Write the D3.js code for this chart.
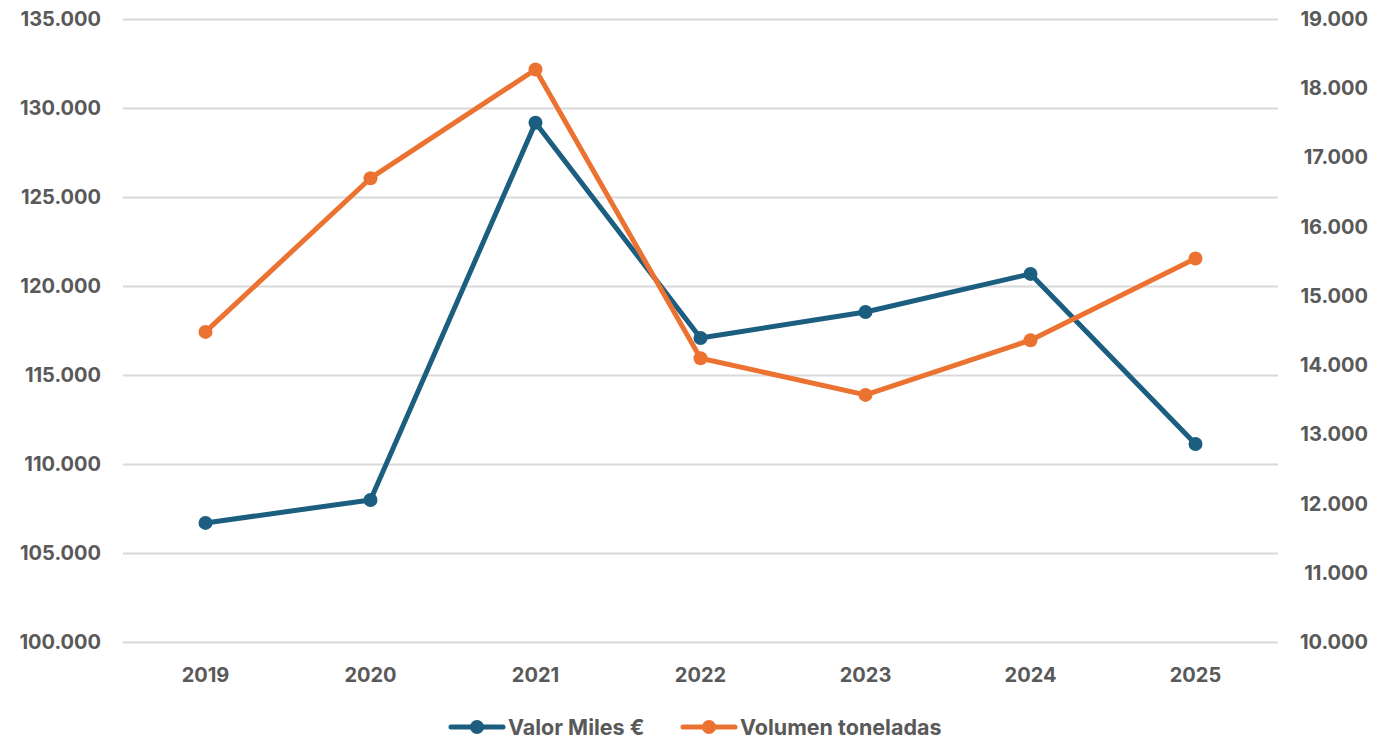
<!DOCTYPE html>
<html><head>
<meta charset="utf-8">
<script src="https://d3js.org/d3.v7.min.js"></script>
<style>
  body { margin: 0; background: #fff; }
  svg text { font-family: Inter, Roboto, "Noto Sans", sans-serif; font-weight: 700; fill: #595959; }
  .gridlines line { stroke: #d9d9d9; stroke-width: 2; }
  .gridlines .domain { stroke: none; }
</style>
</head>
<body>
<svg id="chart" width="1397" height="740"></svg>
<script>

// data
const years = ["2019", "2020", "2021", "2022", "2023", "2024", "2025"];
const valorMiles = [106690, 107980, 129170, 117080, 118540, 120680, 111120];
const volumenToneladas = [14480, 16700, 18270, 14100, 13570, 14360, 15540];
const leftTicks = [100000, 105000, 110000, 115000, 120000, 125000, 130000, 135000];
const rightTicks = [10000, 11000, 12000, 13000, 14000, 15000, 16000, 17000, 18000, 19000];
const seriesNames = ["Valor Miles €", "Volumen toneladas"];
const seriesColors = ["#1b5e80", "#ec7232"];

const svg = d3.select("svg#chart");
const margin = {top: 19, right: 119, bottom: 98, left: 123};
const width = +svg.attr("width");
const height = +svg.attr("height");
const chartWidth = width - margin.left - margin.right;
const chartHeight = height - margin.top - margin.bottom;

const xScale = d3.scaleBand().domain(years).range([0, chartWidth]);
const leftScale = d3.scaleLinear().domain([100000, 135000]).range([chartHeight, 0]);
const rightScale = d3.scaleLinear().domain([10000, 19000]).range([chartHeight, 0]);

// spanish number format: 135.000
const fmt = d3.formatLocale({decimal: ",", thousands: ".", grouping: [3], currency: ["", " €"]}).format(",d");

const g = svg.append("g")
  .attr("transform", "translate(" + margin.left + "," + margin.top + ")");

// gridlines
g.append("g")
  .attr("class", "gridlines")
  .call(d3.axisLeft(leftScale).tickValues(leftTicks).tickSize(-chartWidth).tickFormat(""));

// left axis labels
leftTicks.forEach(t => {
  g.append("text")
    .attr("x", -22)
    .attr("y", leftScale(t))
    .attr("dy", "0.35em")
    .attr("text-anchor", "end")
    .style("font-size", "20px")
    .text(fmt(t));
});

// right axis labels
rightTicks.forEach(t => {
  g.append("text")
    .attr("x", chartWidth + 90)
    .attr("y", rightScale(t))
    .attr("dy", "0.35em")
    .attr("text-anchor", "end")
    .style("font-size", "20px")
    .text(fmt(t));
});

// x labels
years.forEach(y => {
  g.append("text")
    .attr("x", xScale(y) + xScale.bandwidth() / 2)
    .attr("y", chartHeight + 33)
    .attr("dy", "0.35em")
    .attr("text-anchor", "middle")
    .style("font-size", "20px")
    .text(y);
});

const cx = d => xScale(d) + xScale.bandwidth() / 2;

function drawSeries(values, scale, color) {
  const pts = years.map((y, i) => [cx(y), scale(values[i])]);
  g.append("path")
    .attr("d", d3.line()(pts))
    .attr("fill", "none")
    .attr("stroke", color)
    .attr("stroke-width", 5)
    .attr("stroke-linejoin", "round");
  g.selectAll(null)
    .data(pts)
    .join("circle")
    .attr("cx", d => d[0])
    .attr("cy", d => d[1])
    .attr("r", 7)
    .attr("fill", color);
}

drawSeries(valorMiles, leftScale, seriesColors[0]);
drawSeries(volumenToneladas, rightScale, seriesColors[1]);

// legend
const legend = svg.append("g").attr("transform", "translate(0,727)");
const legendX = [451, 683];
seriesNames.forEach((name, i) => {
  const lx = legendX[i];
  legend.append("line")
    .attr("x1", lx).attr("x2", lx + 52)
    .attr("y1", 0).attr("y2", 0)
    .attr("stroke", seriesColors[i])
    .attr("stroke-width", 5)
    .attr("stroke-linecap", "round");
  legend.append("circle")
    .attr("cx", lx + 26).attr("cy", 0).attr("r", 7)
    .attr("fill", seriesColors[i]);
  legend.append("text")
    .attr("x", lx + 57)
    .attr("y", 0)
    .attr("dy", "0.35em")
    .style("font-size", "21.5px")
    .text(name);
});

</script>
</body>
</html>
